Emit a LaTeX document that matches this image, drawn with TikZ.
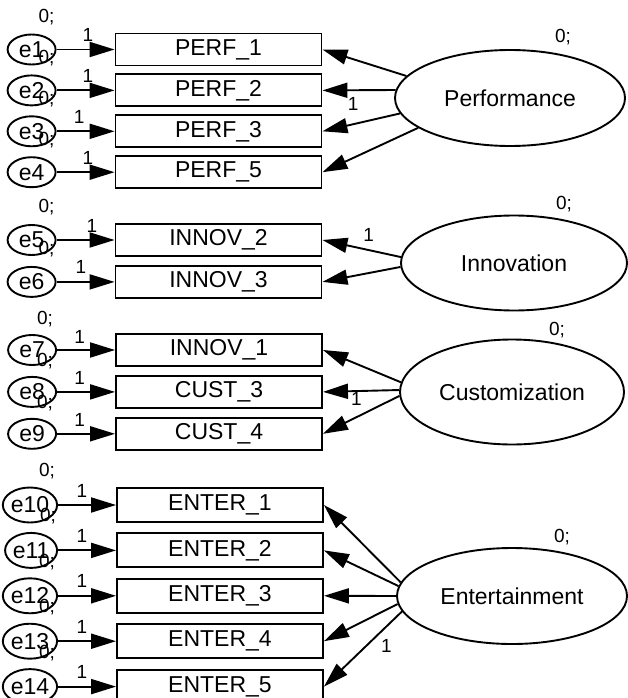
\documentclass[tikz,border=0pt]{standalone}
\usepackage{fontspec}
\setmainfont{Liberation Sans}
\usetikzlibrary{shapes,arrows.meta,positioning}
\tikzstyle{indicator} = [rectangle, draw=black, line width=1.9pt, minimum width=206pt, minimum height=32pt, inner sep=0pt, font=\fontsize{23}{26}\selectfont]
\tikzstyle{errorvar} = [ellipse, draw=black, line width=1.9pt, minimum width=48pt, minimum height=30pt, inner sep=0pt, font=\fontsize{23}{26}\selectfont]
\tikzstyle{latent} = [ellipse, draw=black, line width=1.9pt, minimum width=230pt, minimum height=96pt, inner sep=0pt, font=\fontsize{23}{26}\selectfont]
\tikzstyle{param} = [inner sep=1pt, font=\fontsize{19}{21}\selectfont]
\tikzstyle{arrow} = [line width=1.9pt, ->, >={Triangle[length=25pt,width=15pt]}]

\begin{document}
\begin{tikzpicture}[x=1pt, y=-1pt, node distance=7pt and 58pt]
\useasboundingbox (0,0) rectangle (628,698);

% Performance block
\node[indicator] (perf1) at (218.5,49.5) {PERF\_1};
\node[indicator, below=of perf1] (perf2) {PERF\_2};
\node[indicator, below=of perf2] (perf3) {PERF\_3};
\node[indicator, below=of perf3] (perf5) {PERF\_5};
\node[errorvar, left=of perf1] (e1) {e1};
\node[errorvar, left=of perf2] (e2) {e2};
\node[errorvar, left=of perf3] (e3) {e3};
\node[errorvar, left=of perf5] (e4) {e4};
\node[latent] (performance) at (510,98) {Performance};

% Innovation block
\node[indicator] (innov2) at (218.5,240) {INNOV\_2};
\node[indicator, below=8pt of innov2] (innov3) {INNOV\_3};
\node[errorvar, left=of innov2] (e5) {e5};
\node[errorvar, left=of innov3] (e6) {e6};
\node[latent, minimum width=226pt, minimum height=95pt] (innovation) at (514,263) {Innovation};

% Customization block
\node[indicator] (innov1) at (219,350) {INNOV\_1};
\node[indicator, below=8pt of innov1] (cust3) {CUST\_3};
\node[indicator, below=8pt of cust3] (cust4) {CUST\_4};
\node[errorvar, left=of innov1] (e7) {e7};
\node[errorvar, left=of cust3] (e8) {e8};
\node[errorvar, left=of cust4] (e9) {e9};
\node[latent, minimum width=224pt, minimum height=105pt] (customization) at (512,392) {Customization};

% Entertainment block
\node[indicator, minimum height=34pt] (enter1) at (220,505) {ENTER\_1};
\node[indicator, minimum height=34pt, below=9.5pt of enter1] (enter2) {ENTER\_2};
\node[indicator, minimum height=34pt, below=9.5pt of enter2] (enter3) {ENTER\_3};
\node[indicator, minimum height=34pt, below=9.5pt of enter3] (enter4) {ENTER\_4};
\node[indicator, minimum height=34pt, below=9.5pt of enter4] (enter5) {ENTER\_5};
\node[errorvar, minimum width=52pt, minimum height=35pt, left=of enter1] (e10) {e10};
\node[errorvar, minimum width=52pt, minimum height=35pt, left=of enter2] (e11) {e11};
\node[errorvar, minimum width=52pt, minimum height=35pt, left=of enter3] (e12) {e12};
\node[errorvar, minimum width=52pt, minimum height=35pt, left=of enter4] (e13) {e13};
\node[errorvar, minimum width=52pt, minimum height=35pt, left=of enter5] (e14) {e14};
\node[latent] (entertainment) at (512,596) {Entertainment};

% Error paths
\draw[arrow] (e1) -- node[param, pos=0.54, above=6pt] (w1) {1} (perf1);
\draw[arrow] (e2) -- node[param, pos=0.54, above=6pt] (w2) {1} (perf2);
\draw[arrow] (e3) -- node[param, pos=0.39, above=6pt] (w3) {1} (perf3);
\draw[arrow] (e4) -- node[param, pos=0.54, above=6pt] (w4) {1} (perf5);
\draw[arrow] (e5) -- node[param, pos=0.61, above=6pt] (w5) {1} (innov2);
\draw[arrow] (e6) -- node[param, pos=0.42, above=6pt] (w6) {1} (innov3);
\draw[arrow] (e7) -- node[param, pos=0.39, above=5pt] (w7) {1} (innov1);
\draw[arrow] (e8) -- node[param, pos=0.39, above=5pt] (w8) {1} (cust3);
\draw[arrow] (e9) -- node[param, pos=0.39, above=5pt] (w9) {1} (cust4);
\draw[arrow] (e10) -- node[param, pos=0.41, above=6pt] (w10) {1} (enter1);
\draw[arrow] (e11) -- node[param, pos=0.41, above=6pt] (w11) {1} (enter2);
\draw[arrow] (e12) -- node[param, pos=0.41, above=6pt] (w12) {1} (enter3);
\draw[arrow] (e13) -- node[param, pos=0.41, above=6pt] (w13) {1} (enter4);
\draw[arrow] (e14) -- node[param, pos=0.41, above=6pt] (w14) {1} (enter5);

% Loadings
\draw[arrow] (performance.168.5) -- (perf1.east);
\draw[arrow] (performance.176.6) -- node[param, pos=0.58, below=5pt] (l1) {1} (perf2.east);
\draw[arrow] (performance.188.4) -- (perf3.east);
\draw[arrow] (performance.198.6) -- (perf5.east);
\draw[arrow] (innovation.177) -- node[param, pos=0.41, above=7pt] (l2) {1} (innov2.east);
\draw[arrow] (innovation.182.5) -- (innov3.east);
\draw[arrow] (customization.175) -- (innov1.east);
\draw[arrow] (customization.179) -- node[param, pos=0.56, below=-1pt] (l3) {1} (cust3.east);
\draw[arrow] (customization.182.5) -- (cust4.east);
\draw[arrow] (entertainment.173) -- (enter1.east);
\draw[arrow] (entertainment.175.5) -- (enter2.east);
\draw[arrow] (entertainment.180) -- (enter3.east);
\draw[arrow] (entertainment.184) -- (enter4.east);
\draw[arrow] (entertainment.188) -- node[param, pos=0.32, below right=3pt] (l4) {1} (enter5.east);

% Variances
\node[param] (v1) at ([shift={(15,-32)}]e1.center) {0;};
\node[param] (v2) at ([shift={(15,-32)}]e2.center) {0;};
\node[param] (v3) at ([shift={(15,-32)}]e3.center) {0;};
\node[param] (v4) at ([shift={(15,-32)}]e4.center) {0;};
\node[param] (v5) at ([shift={(15,-33)}]e5.center) {0;};
\node[param] (v6) at ([shift={(15,-33)}]e6.center) {0;};
\node[param] (v7) at ([shift={(13,-31)}]e7.center) {0;};
\node[param] (v8) at ([shift={(13,-31)}]e8.center) {0;};
\node[param] (v9) at ([shift={(13,-31)}]e9.center) {0;};
\node[param] (v10) at ([shift={(17,-34)}]e10.center) {0;};
\node[param] (v11) at ([shift={(17,-34)}]e11.center) {0;};
\node[param] (v12) at ([shift={(17,-34)}]e12.center) {0;};
\node[param] (v13) at ([shift={(17,-34)}]e13.center) {0;};
\node[param] (v14) at ([shift={(17,-34)}]e14.center) {0;};
\node[param] (vperf) at ([shift={(53,-61)}]performance.center) {0;};
\node[param] (vinnov) at ([shift={(50,-59)}]innovation.center) {0;};
\node[param] (vcust) at ([shift={(45,-62)}]customization.center) {0;};
\node[param] (vent) at ([shift={(50,-59)}]entertainment.center) {0;};

\end{tikzpicture}
\end{document}
